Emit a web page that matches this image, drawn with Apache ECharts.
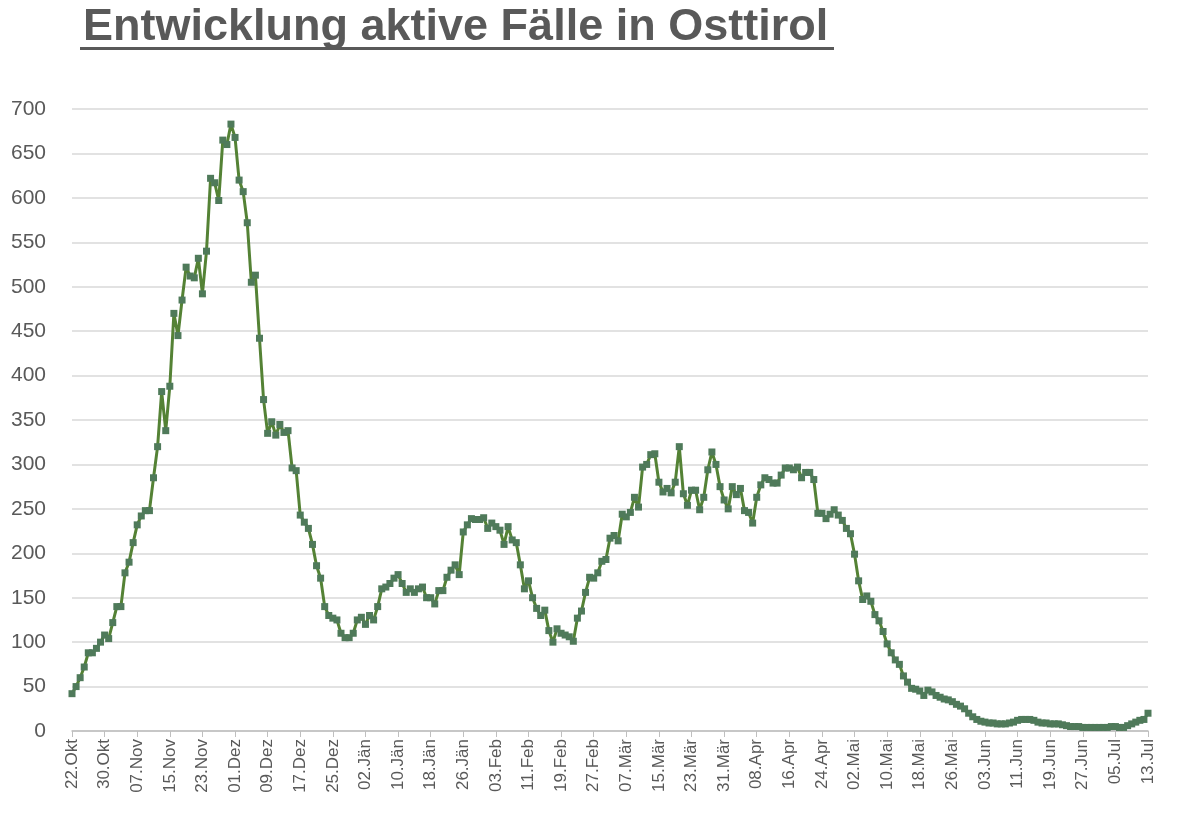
<!DOCTYPE html>
<html><head><meta charset="utf-8">
<script src="https://cdn.jsdelivr.net/npm/echarts@6/dist/echarts.min.js"></script>
<style>html,body{margin:0;padding:0;background:#fff}#c{width:1200px;height:826px}</style>
</head><body><div id="c"></div>
<script>
const monthNames = ["Jän","Feb","Mär","Apr","Mai","Jun","Jul","Aug","Sep","Okt","Nov","Dez"];
const startDate = [2020, 9, 22];
const values = [
42,50,60,72,88,88,93,100,108,104,122,140,140,178,190,212,232,242,248,248,
285,320,382,338,388,470,445,485,522,512,510,532,492,540,622,617,597,665,660,683,
668,620,607,572,505,513,442,373,335,348,333,345,336,338,296,293,243,235,228,
210,186,172,140,130,127,125,110,105,105,110,125,128,120,130,125,140,160,162,166,
172,176,166,156,160,156,160,162,150,150,143,158,158,173,181,187,176,224,232,239,
238,238,240,228,234,230,226,210,230,215,212,187,160,169,150,138,130,136,113,100,
115,110,108,106,101,127,135,156,173,172,178,191,193,217,
220,214,244,241,246,263,252,297,300,311,312,280,269,273,268,280,320,267,254,271,
271,249,263,294,314,300,275,260,250,275,266,273,248,246,234,263,277,285,283,279,
279,288,296,296,294,297,285,291,291,283,245,245,239,244,249,243,237,228,222,199,
169,148,152,146,131,124,
112,98,88,80,75,62,55,48,47,45,40,46,44,40,38,36,35,33,30,28,
25,20,16,13,11,10,9,9,8,8,8,9,10,12,13,13,13,12,10,9,
9,8,8,8,7,6,5,5,5,4,4,4,4,4,4,4,5,5,4,4,6,8,10,12,13,20];
const categories = values.map((v, i) => {
  const d = new Date(startDate[0], startDate[1], startDate[2] + i);
  return String(d.getDate()).padStart(2, "0") + "." + monthNames[d.getMonth()];
});
const chart = echarts.init(document.getElementById('c'));
chart.setOption({
  animation: false,
  title: {text: "Entwicklung aktive Fälle in Osttirol", left: 78, top: 0,
    textStyle: {fontFamily: "Liberation Sans", fontSize: 45, fontWeight: "bold", color: "#595959"}},
  graphic: [{type: "rect", shape: {x: 80, y: 47, width: 754, height: 3}, style: {fill: "#595959"}}],
  grid: {left: 72, right: 52, top: 109, bottom: 95, containLabel: false},
  xAxis: {type: "category", data: categories, boundaryGap: false,
    axisLine: {lineStyle: {color: "#bfbfbf", width: 1.5}},
    axisTick: {interval: 7, lineStyle: {color: "#bfbfbf"}, length: 6},
    axisLabel: {interval: 7, rotate: 90, color: "#595959", fontSize: 17, fontFamily: "Liberation Sans", margin: 8}},
  yAxis: {type: "value", min: 0, max: 700, interval: 50,
    axisLine: {show: false}, axisTick: {show: false},
    splitLine: {lineStyle: {color: "#d9d9d9", width: 1.5}},
    axisLabel: {color: "#595959", fontSize: 21, fontFamily: "Liberation Sans", margin: 26}},
  series: [{type: "line", data: values, symbol: "rect", symbolSize: 7, showAllSymbol: true,
    lineStyle: {color: "#548235", width: 3},
    itemStyle: {color: "#4f7a5a"}}]
});
</script></body></html>
